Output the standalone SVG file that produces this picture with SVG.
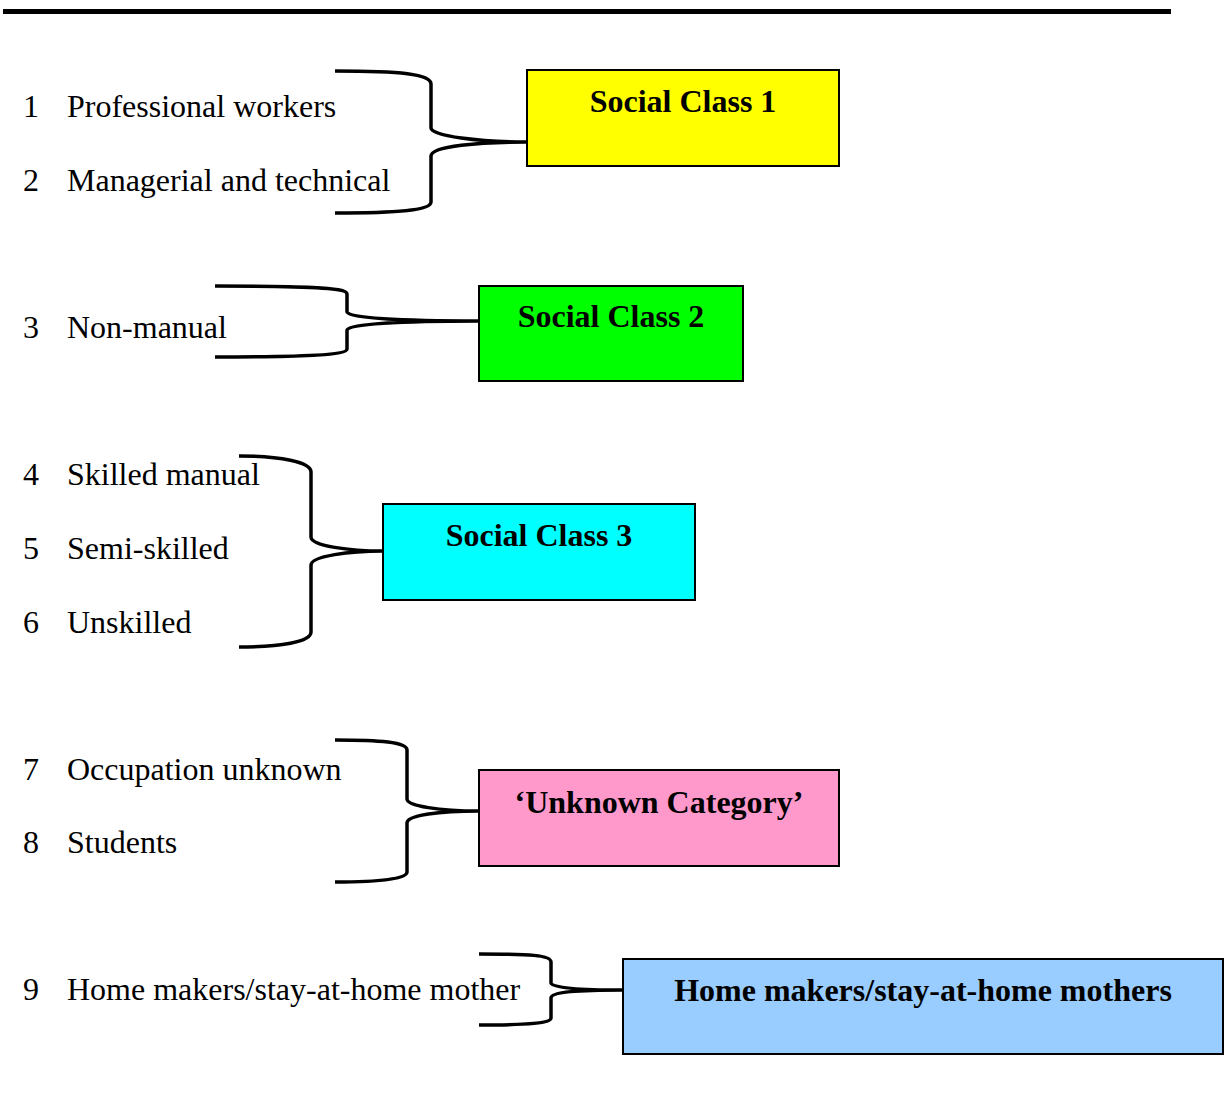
<svg xmlns="http://www.w3.org/2000/svg" width="1230" height="1113" viewBox="0 0 1230 1113">
<style>
.t{font-family:"Liberation Serif","Times New Roman",serif;font-size:32px;fill:#000}
.h{font-family:"Liberation Serif","Times New Roman",serif;font-size:32px;font-weight:bold;fill:#000;text-anchor:middle}
.b{stroke:#000;stroke-width:2}
.br{fill:none;stroke:#000;stroke-width:3.5;stroke-linecap:butt}
</style>
<rect x="3" y="9" width="1168" height="5" fill="#000"/>
<g id="labels">
<text class="t" x="23" y="117">1</text><text class="t" x="67" y="117">Professional workers</text>
<text class="t" x="23" y="191">2</text><text class="t" x="67" y="191">Managerial and technical</text>
<text class="t" x="23" y="338">3</text><text class="t" x="67" y="338">Non-manual</text>
<text class="t" x="23" y="485">4</text><text class="t" x="67" y="485">Skilled manual</text>
<text class="t" x="23" y="559">5</text><text class="t" x="67" y="559">Semi-skilled</text>
<text class="t" x="23" y="633">6</text><text class="t" x="67" y="633">Unskilled</text>
<text class="t" x="23" y="780">7</text><text class="t" x="67" y="780">Occupation unknown</text>
<text class="t" x="23" y="853">8</text><text class="t" x="67" y="853">Students</text>
<text class="t" x="23" y="1000">9</text><text class="t" x="67" y="1000">Home makers/stay-at-home mother</text>
</g>
<g id="connectors">
<path class="br" d="M335,71 C400,71 431,74 431,84 L431,128 C431,136 480,142 527,142 C480,142 431,146 431,156 L431,202 C431,210 400,213 335,213"/>
<path class="br" d="M215,286 C300,286 347,287 347,294 L347,312 C347,318 400,321 479,321 C400,321 347,324 347,330 L347,349 C347,355 300,357 215,357"/>
<path class="br" d="M239,456 C280,456 311,462 311,472 L311,537 C311,546 350,551 383,551 C350,551 311,556 311,565 L311,632 C311,642 280,647 239,647"/>
<path class="br" d="M335,740 C380,740 407,742 407,750 L407,799 C407,806 440,811 479,811 C440,811 407,815 407,823 L407,872 C407,879 380,882 335,882"/>
<path class="br" d="M479,954 C530,954 551,955 551,962 L551,983 C551,988 580,990 623,990 C580,990 551,992 551,998 L551,1018 C551,1023 530,1025 479,1025"/>
</g>
<g id="sc1"><rect class="b" x="527" y="70" width="312" height="96" fill="#ffff00"/><text class="h" x="683" y="112">Social Class 1</text></g>
<g id="sc2"><rect class="b" x="479" y="286" width="264" height="95" fill="#00ff00"/><text class="h" x="611" y="327">Social Class 2</text></g>
<g id="sc3"><rect class="b" x="383" y="504" width="312" height="96" fill="#00ffff"/><text class="h" x="539" y="546">Social Class 3</text></g>
<g id="unknown"><rect class="b" x="479" y="770" width="360" height="96" fill="#ff99cc"/><text class="h" x="659" y="813">‘Unknown Category’</text></g>
<g id="home"><rect class="b" x="623" y="959" width="600" height="95" fill="#99ccff"/><text class="h" x="923" y="1001">Home makers/stay-at-home mothers</text></g>
</svg>
